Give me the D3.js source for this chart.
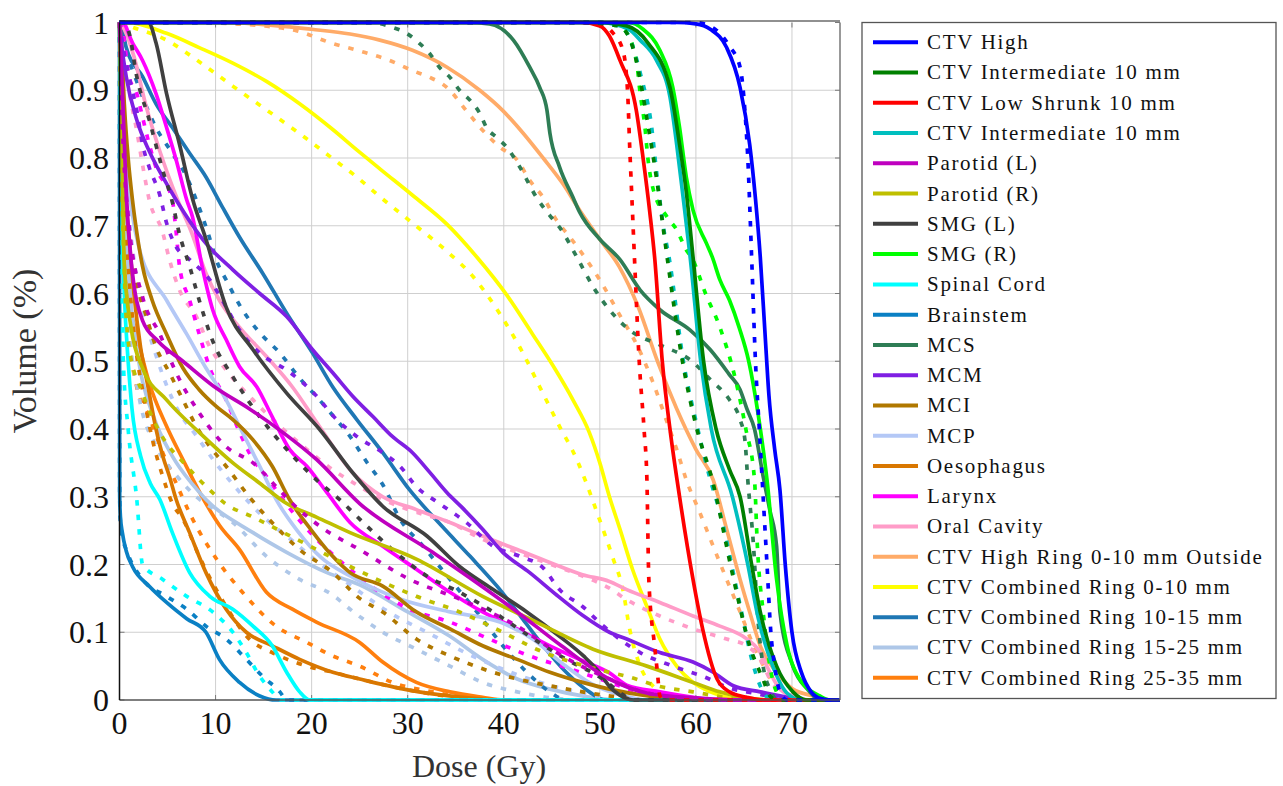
<!DOCTYPE html>
<html>
<head>
<meta charset="utf-8">
<script src="https://cdn.jsdelivr.net/npm/d3@7"></script>
<style>
  html, body { margin: 0; padding: 0; background: #fff; }
  svg { display: block; }
  text { font-family: "Liberation Serif", "Times New Roman", serif; fill: #111; }
</style>
</head>
<body>
<svg id="chart" width="1283" height="786"></svg>
<script>
// ---- Structure names (legend order) ----
const structureNames = [
  "CTV High", "CTV Intermediate 10 mm", "CTV Low Shrunk 10 mm", "CTV Intermediate 10 mm",
  "Parotid (L)", "Parotid (R)", "SMG (L)", "SMG (R)", "Spinal Cord", "Brainstem",
  "MCS", "MCM", "MCI", "MCP", "Oesophagus", "Larynx", "Oral Cavity",
  "CTV High Ring 0-10 mm Outside", "CTV Combined Ring 0-10 mm",
  "CTV Combined Ring 10-15 mm", "CTV Combined Ring 15-25 mm", "CTV Combined Ring 25-35 mm"
];
const structureColors = [
  "#0000ff", "#008000", "#ff0000", "#00bfbf", "#bf00bf", "#bfbf00", "#404040", "#00ff00",
  "#00ffff", "#0a80c4", "#2e7d55", "#7f1fe3", "#b07800", "#b4c8f6", "#d97700", "#ff00ff",
  "#ff9cc8", "#ffab68", "#ffff00", "#1f77b4", "#aec7e8", "#ff7f0e"
];

// ---- Axis ticks ----
const doseTicks = [0, 10, 20, 30, 40, 50, 60, 70];
const volumeTicks = [0, 0.1, 0.2, 0.3, 0.4, 0.5, 0.6, 0.7, 0.8, 0.9, 1];
const volumeTickLabels = ["0", "0.1", "0.2", "0.3", "0.4", "0.5", "0.6", "0.7", "0.8", "0.9", "1"];

// ---- Cumulative DVH curves: [dose (Gy), volume fraction]; A = solid, B = dotted ----
const ctvHighA = [[0,1],[58,1],[60,0.998],[61.5,0.99],[63.2,0.963],[64.6,0.904],[65.6,0.82],[66.2,0.74],[66.7,0.654],[67.2,0.54],[67.6,0.45],[68.2,0.37],[68.75,0.31],[69.3,0.2],[70,0.1],[71,0.04],[72,0.012],[73,0.002],[74,0],[75,0]];
const ctvHighB = [[0,1],[60,1],[62,0.99],[63.5,0.965],[64.6,0.934],[65.1,0.87],[65.4,0.8],[65.8,0.654],[66.2,0.5],[66.6,0.4],[66.9,0.325],[67.4,0.2],[67.8,0.1],[68.2,0.05],[68.75,0.012],[69.5,0],[75,0]];
const ctvIntA = [[0,1],[50,1],[52.8,0.995],[55,0.97],[57.3,0.904],[58.3,0.82],[59,0.75],[59.7,0.654],[60.8,0.5],[62.1,0.4],[63.5,0.34],[64.6,0.3],[65.8,0.2],[66.7,0.13],[68.4,0.05],[70.1,0.012],[71.5,0],[75,0]];
const ctvIntB = [[0,1],[48,1],[52,0.995],[53.5,0.96],[54.4,0.9],[55,0.85],[55.9,0.77],[57,0.654],[58.6,0.5],[60.1,0.4],[61.7,0.325],[63.9,0.18],[65.6,0.08],[67,0.03],[67.7,0.006],[68.5,0],[75,0]];
const ctvLowA = [[0,1],[48,1],[50,0.995],[51,0.98],[52.1,0.944],[53.8,0.87],[54.5,0.8],[55.2,0.72],[55.7,0.654],[56.5,0.5],[57.3,0.4],[58.3,0.3],[59.7,0.178],[60.7,0.105],[62.2,0.031],[63.5,0.012],[65.3,0.004],[67,0],[75,0]];
const ctvLowB = [[0,1],[48,1],[50.5,0.995],[51.4,0.984],[52.4,0.959],[52.9,0.895],[53.1,0.82],[53.4,0.72],[53.6,0.654],[54.1,0.5],[54.6,0.4],[54.9,0.325],[55.1,0.178],[55.7,0.08],[56,0.04],[56.25,0.006],[57,0],[75,0]];
const ctvInt2A = [[0,1],[50,1],[53,0.99],[54.2,0.974],[55.9,0.944],[57.3,0.89],[58,0.82],[58.6,0.75],[59.4,0.654],[60.5,0.5],[61.6,0.4],[63.8,0.3],[65.4,0.2],[66.5,0.12],[68,0.05],[69.5,0.01],[71,0],[75,0]];
const ctvInt2B = [[0,1],[48,1],[52,0.995],[53,0.98],[54.3,0.92],[55.4,0.845],[55.9,0.78],[56.6,0.7],[57.2,0.654],[58.7,0.5],[60.2,0.4],[61.5,0.325],[62.5,0.277],[64.6,0.14],[66,0.05],[67,0.012],[68,0],[75,0]];
const parotidLA = [[0,1],[0.3,0.9],[0.7,0.75],[1.2,0.65],[2.4,0.56],[4,0.53],[6.6,0.5],[10.1,0.46],[13.5,0.43],[17,0.395],[20.5,0.355],[25,0.29],[32.6,0.218],[37,0.175],[41.4,0.13],[46,0.08],[51,0.031],[55,0.01],[60,0.003],[65,0],[75,0]];
const parotidLB = [[0,1],[0.3,0.85],[1,0.7],[2.4,0.595],[4.2,0.54],[5.9,0.483],[8.3,0.424],[11.1,0.374],[13.9,0.35],[16.3,0.315],[18,0.29],[21,0.255],[25,0.222],[30.2,0.178],[35.4,0.149],[41.4,0.109],[46.1,0.065],[51,0.031],[55,0.01],[60,0.002],[63,0],[75,0]];
const parotidRA = [[0,1],[0.2,0.85],[0.5,0.64],[1.2,0.55],[2.4,0.49],[4.9,0.443],[8.3,0.395],[11.8,0.35],[14.6,0.32],[17.4,0.29],[20.5,0.27],[24,0.247],[30.9,0.208],[37.8,0.153],[43.4,0.115],[49.3,0.075],[54.9,0.05],[59.7,0.026],[62.5,0.012],[65,0.004],[68,0],[75,0]];
const parotidRB = [[0,1],[0.2,0.8],[0.5,0.63],[1,0.52],[2.4,0.453],[4.2,0.395],[7,0.345],[9.4,0.31],[11,0.29],[13.9,0.27],[18.75,0.235],[24,0.197],[30.9,0.153],[35.4,0.13],[39.9,0.1],[43.4,0.075],[51,0.041],[52.8,0.035],[56.25,0.02],[59.7,0.012],[63,0.004],[66,0],[75,0]];
const smgLA = [[0,1],[3,1],[3.8,0.97],[4.9,0.895],[6.25,0.82],[7.6,0.74],[9,0.68],[11.1,0.58],[13.9,0.517],[17.4,0.453],[20.8,0.4],[24.3,0.335],[27.4,0.286],[32,0.242],[35.4,0.197],[38.9,0.163],[42.4,0.13],[45.8,0.094],[48.3,0.065],[50,0.04],[51,0.02],[52,0.008],[53.5,0],[75,0]];
const smgLB = [[0,1],[0.5,1],[1,0.985],[1.8,0.92],[3.1,0.856],[4.5,0.782],[5.5,0.735],[6.2,0.69],[7.3,0.64],[8.3,0.59],[9.7,0.53],[11.8,0.477],[14.6,0.418],[17.4,0.37],[20.5,0.325],[22.9,0.296],[25,0.267],[28.4,0.222],[32,0.183],[35.4,0.159],[38.9,0.13],[42.7,0.094],[46.5,0.06],[50.3,0.031],[52,0.012],[53.5,0],[75,0]];
const smgRA = [[0,1],[53,1],[54.5,0.99],[56.25,0.959],[57.6,0.904],[58.3,0.845],[59,0.772],[59.7,0.723],[61.1,0.674],[61.7,0.654],[62.5,0.62],[63.5,0.59],[64.5,0.55],[65.5,0.5],[66.5,0.42],[67.4,0.325],[68.4,0.178],[69.5,0.08],[70.8,0.031],[72.9,0.006],[74,0],[75,0]];
const smgRB = [[0,1],[51,1],[52.5,0.99],[53.8,0.944],[54.2,0.895],[54.7,0.845],[55,0.8],[55.5,0.757],[57,0.713],[58,0.694],[59,0.664],[59.6,0.652],[61,0.6],[62.5,0.55],[64,0.48],[65.2,0.4],[66.1,0.325],[66.4,0.227],[67,0.13],[67.7,0.05],[68.4,0.012],[69.2,0],[75,0]];
const spinalA = [[0,1],[0.2,0.75],[0.5,0.6],[0.9,0.5],[1.3,0.43],[2.2,0.36],[3.2,0.32],[4.2,0.296],[5.5,0.247],[7.3,0.188],[9.4,0.153],[11.8,0.134],[13.9,0.109],[15.9,0.08],[17.4,0.041],[18.75,0.012],[19.8,0],[75,0]];
const spinalB = [[0,1],[0.2,0.7],[0.4,0.5],[0.9,0.4],[1.8,0.296],[2.4,0.2],[4.5,0.178],[7,0.153],[9.7,0.13],[11.8,0.1],[13.2,0.07],[14.6,0.035],[15.9,0.012],[16.7,0],[75,0]];
const brainstemA = [[0,1],[0.02,0.3],[0.1,0.27],[0.3,0.247],[0.7,0.22],[1.35,0.197],[3.1,0.168],[4.9,0.144],[7,0.12],[9,0.1],[10.4,0.06],[12.5,0.026],[14.6,0.006],[16.3,0],[75,0]];
const brainstemB = [[0,1],[0.02,0.3],[0.1,0.26],[0.3,0.24],[0.7,0.222],[2.4,0.178],[4.9,0.153],[7,0.134],[9,0.109],[11.1,0.09],[13.2,0.06],[14.9,0.035],[16.7,0.012],[17.4,0],[75,0]];
const mcsA = [[0,1],[36,1],[38.5,0.998],[41,0.974],[42.7,0.934],[43.75,0.904],[44.5,0.87],[44.8,0.837],[45.8,0.787],[47.2,0.742],[47.9,0.72],[50,0.68],[52.1,0.65],[54.2,0.605],[56.25,0.576],[59.4,0.546],[61.5,0.517],[63.5,0.48],[64.6,0.458],[65.3,0.43],[66.1,0.4],[67,0.33],[67.7,0.28],[68.4,0.227],[68.75,0.13],[70.1,0.05],[71.6,0.016],[73,0],[75,0]];
const mcsB = [[0,1],[26,1],[28.4,0.993],[29.9,0.984],[31.25,0.969],[32.3,0.954],[33.3,0.934],[34.4,0.919],[35.4,0.9],[36.5,0.885],[37.5,0.866],[38.2,0.845],[39.3,0.83],[40.3,0.816],[41.7,0.786],[43.4,0.742],[44.8,0.715],[45.8,0.698],[47.6,0.654],[49.3,0.61],[51,0.576],[53.1,0.546],[56.25,0.524],[59.4,0.502],[61.5,0.473],[63.5,0.443],[64.6,0.414],[65.1,0.384],[65.4,0.325],[66,0.227],[66.4,0.13],[67,0.05],[67.7,0.016],[68.5,0],[75,0]];
const mcmA = [[0,1],[0.2,0.97],[0.7,0.92],[1.8,0.856],[3.1,0.81],[4.5,0.772],[5.9,0.738],[9,0.674],[11.8,0.635],[14.6,0.6],[17.4,0.566],[20.1,0.517],[22.2,0.483],[24.3,0.448],[26.4,0.418],[28.4,0.389],[30.5,0.365],[32.3,0.336],[34.1,0.306],[35.6,0.285],[37.8,0.252],[39.9,0.218],[42.7,0.188],[45.5,0.155],[48.2,0.125],[51,0.1],[52.8,0.09],[56.25,0.07],[59.7,0.056],[61.8,0.041],[63.9,0.021],[66.7,0.012],[69.5,0.004],[71,0],[75,0]];
const mcmB = [[0,1],[0.1,0.99],[0.3,0.97],[1,0.92],[1.8,0.87],[2.4,0.82],[3.1,0.786],[4.2,0.745],[4.9,0.704],[5.9,0.669],[7.3,0.65],[9.4,0.62],[10.7,0.59],[12.5,0.546],[14.6,0.512],[17.4,0.487],[20.1,0.455],[22.6,0.414],[24.7,0.389],[27.4,0.365],[29.2,0.345],[30.9,0.315],[33.3,0.29],[36.1,0.262],[38.9,0.227],[41.7,0.212],[44.1,0.195],[45.8,0.163],[48.2,0.138],[50.3,0.11],[54.2,0.07],[57.6,0.05],[60.7,0.035],[63.9,0.016],[65.3,0.012],[67.4,0.006],[69,0],[75,0]];
const mciA = [[0,1],[0.2,0.97],[0.5,0.88],[0.9,0.8],[1.35,0.738],[1.8,0.69],[2.4,0.64],[3.4,0.59],[4.9,0.54],[6.6,0.49],[8.3,0.458],[10.1,0.433],[11.8,0.414],[13.9,0.384],[15.9,0.345],[17.7,0.296],[20,0.25],[22,0.215],[24,0.188],[27.4,0.168],[30.9,0.13],[34.4,0.105],[37.8,0.08],[41.4,0.06],[44.8,0.041],[48.2,0.026],[51,0.016],[55,0.006],[60,0],[75,0]];
const mciB = [[0,1],[0.2,0.9],[0.5,0.78],[1,0.69],[1.8,0.615],[2.8,0.566],[3.8,0.521],[5.2,0.483],[6.6,0.443],[8,0.404],[9.4,0.374],[11.1,0.345],[13.5,0.3],[16,0.26],[18.75,0.222],[22.2,0.188],[25,0.15],[27.4,0.13],[30.9,0.09],[34.4,0.065],[37.8,0.046],[41.4,0.031],[44.8,0.021],[48.2,0.012],[52,0.004],[55,0],[75,0]];
const mcpA = [[0,1],[0.3,0.9],[0.7,0.8],[1.3,0.72],[2.1,0.664],[4.9,0.59],[7,0.54],[9,0.49],[11.1,0.443],[12.8,0.395],[14.6,0.345],[16.3,0.296],[18.5,0.25],[21,0.21],[24,0.183],[29.2,0.149],[34.4,0.13],[39.6,0.115],[43,0.09],[46,0.055],[49,0.025],[52,0.008],[55,0],[75,0]];
const mcpB = [[0,1],[0.3,0.88],[0.8,0.75],[1.5,0.65],[2.4,0.58],[4,0.5],[6,0.43],[8,0.39],[10,0.35],[12,0.315],[15,0.27],[18,0.235],[21,0.2],[24,0.17],[28,0.13],[32,0.1],[36,0.07],[40,0.045],[44,0.025],[48,0.01],[52,0],[75,0]];
const oesoA = [[0,1],[0.1,0.95],[0.3,0.85],[0.6,0.75],[1,0.68],[1.5,0.6],[2.2,0.52],[3,0.46],[3.8,0.4],[4.5,0.36],[5.2,0.33],[5.9,0.296],[7.3,0.247],[9,0.188],[11.1,0.134],[13.2,0.1],[15.9,0.08],[18.75,0.06],[22.2,0.041],[25,0.031],[30,0.015],[35,0.005],[40,0],[75,0]];
const oesoB = [[0,1],[0.1,0.9],[0.3,0.8],[0.6,0.7],[1,0.62],[1.6,0.53],[2.5,0.45],[3.5,0.38],[4.5,0.33],[5.5,0.29],[6.6,0.267],[8.3,0.212],[11.1,0.138],[13.5,0.09],[15.9,0.07],[19.5,0.05],[22.2,0.041],[25,0.031],[30,0.015],[35,0.004],[38,0],[75,0]];
const larynxA = [[0,1],[0.3,1],[1.35,0.97],[2.4,0.944],[3.8,0.895],[4.9,0.845],[5.9,0.797],[7,0.738],[7.6,0.713],[8.6,0.64],[9.7,0.576],[11.1,0.532],[12.5,0.492],[14.3,0.462],[15.9,0.418],[17.7,0.37],[19.5,0.345],[21.6,0.306],[24,0.262],[27.4,0.227],[30.9,0.193],[34.4,0.159],[37.8,0.13],[41.4,0.105],[44.8,0.08],[48.2,0.058],[51,0.04],[52.8,0.022],[56.25,0.012],[59.7,0.004],[62,0],[75,0]];
const larynxB = [[0,1],[0.3,0.99],[1,0.92],[1.8,0.895],[2.4,0.86],[3.1,0.82],[3.8,0.786],[5.5,0.738],[5.9,0.69],[6.25,0.64],[7.3,0.59],[8.3,0.54],[9.4,0.49],[11.1,0.443],[12.5,0.395],[13.9,0.355],[15.3,0.33],[17,0.296],[20,0.245],[24,0.193],[27,0.16],[30.2,0.134],[34.4,0.115],[38.5,0.09],[42.7,0.065],[46.9,0.046],[51,0.026],[54,0.012],[57,0.004],[60,0],[75,0]];
const oralA = [[0,1],[0.5,0.99],[1.5,0.95],[2.7,0.88],[4.2,0.81],[6,0.74],[7.5,0.69],[9,0.63],[10.4,0.59],[12.5,0.55],[15.3,0.507],[18,0.462],[20.8,0.404],[24.3,0.335],[27.4,0.3],[30.9,0.281],[34.4,0.262],[37.8,0.242],[41.4,0.222],[44.8,0.203],[48.2,0.185],[51,0.175],[52.8,0.163],[56.25,0.144],[59.7,0.124],[62.5,0.109],[64.9,0.094],[66.7,0.07],[67.7,0.041],[68.75,0.016],[70.1,0.006],[72,0],[75,0]];
const oralB = [[0,1],[0.3,0.98],[1,0.9],[1.8,0.84],[2.4,0.79],[3.1,0.738],[4.5,0.69],[5.2,0.65],[6.25,0.605],[8,0.566],[9.4,0.521],[11.1,0.487],[13.9,0.443],[16.7,0.404],[19.5,0.37],[22.2,0.34],[24.3,0.321],[27.4,0.296],[30.9,0.277],[34.4,0.262],[37.8,0.237],[41.4,0.218],[45.5,0.197],[48.2,0.183],[51,0.165],[52.8,0.148],[56.25,0.124],[59.7,0.105],[63.2,0.09],[65.3,0.08],[66.7,0.06],[67.7,0.031],[68.75,0.012],[70,0],[75,0]];
const highRingA = [[0,1],[10,1],[15,0.997],[20,0.99],[24,0.983],[27.1,0.974],[30.5,0.959],[34.1,0.934],[37.5,0.9],[39.9,0.87],[42,0.837],[44.1,0.8],[46.1,0.763],[47.9,0.723],[50,0.68],[52,0.64],[54,0.58],[56,0.5],[58,0.43],[60,0.37],[61.8,0.325],[63.2,0.252],[64.6,0.178],[65.6,0.13],[66.7,0.08],[68.4,0.041],[70.1,0.016],[72.2,0.006],[74,0],[75,0]];
const highRingB = [[0,1],[8,1],[12,0.998],[15,0.995],[18.4,0.988],[22.2,0.969],[25,0.958],[28.1,0.944],[30.5,0.929],[32.3,0.919],[34.1,0.904],[36.1,0.87],[37.8,0.841],[39.6,0.816],[41.4,0.797],[42.7,0.767],[44.1,0.742],[45.5,0.708],[46.9,0.683],[47.9,0.664],[50,0.62],[52,0.57],[54,0.52],[55.5,0.47],[57,0.41],[58,0.37],[59,0.325],[60.4,0.277],[61.8,0.227],[63.2,0.178],[64.6,0.13],[66,0.08],[67.4,0.041],[68.4,0.016],[69.5,0.004],[71,0],[75,0]];
const ring0to10A = [[0,1],[0.7,1],[4.9,0.984],[8.3,0.963],[11.8,0.94],[15.3,0.913],[18.75,0.88],[22.2,0.842],[24.7,0.812],[27.1,0.784],[30.5,0.745],[34.1,0.702],[37.3,0.652],[40.3,0.598],[43,0.54],[45.1,0.494],[47.2,0.443],[48.9,0.395],[50,0.35],[51,0.3],[52.1,0.252],[53.4,0.193],[54.9,0.138],[56.25,0.09],[58,0.05],[59.7,0.026],[61.5,0.012],[63.5,0.003],[65,0],[75,0]];
const ring0to10B = [[0,1],[1.35,0.993],[4.9,0.974],[8.3,0.942],[11.8,0.906],[15.3,0.871],[18.75,0.836],[22.2,0.799],[24.7,0.772],[27.1,0.743],[30.5,0.704],[34.1,0.662],[36.8,0.625],[38.9,0.585],[40.6,0.547],[42,0.512],[43.75,0.462],[45.8,0.404],[47.6,0.355],[48.6,0.32],[49.7,0.277],[51.4,0.208],[52.4,0.163],[53.1,0.105],[54.2,0.05],[55.5,0.021],[57,0.006],[58.5,0],[75,0]];
const ring10to15A = [[0,1],[0.3,0.99],[0.7,0.963],[2.4,0.92],[3.8,0.88],[5.5,0.845],[7.3,0.807],[9,0.772],[10.7,0.728],[12.5,0.683],[14.9,0.63],[17.4,0.571],[20.1,0.512],[22.2,0.462],[24.7,0.414],[27.4,0.365],[30.2,0.31],[33.6,0.256],[36.5,0.212],[39.3,0.168],[42,0.119],[44.1,0.08],[46.5,0.041],[48.9,0.012],[50.5,0],[75,0]];
const ring10to15B = [[0,1],[0.5,0.96],[1.35,0.93],[2.4,0.89],[3.8,0.845],[5.5,0.807],[7,0.772],[8,0.738],[9.2,0.69],[10.2,0.645],[11.1,0.62],[12.8,0.576],[14.6,0.542],[16.7,0.512],[18.75,0.475],[20.5,0.448],[22.2,0.42],[24,0.389],[25.7,0.352],[27.4,0.318],[29.2,0.267],[31.6,0.227],[34.4,0.178],[37.2,0.13],[39.9,0.08],[42.4,0.041],[44.8,0.012],[46.5,0],[75,0]];
const ring15to25A = [[0,1],[0.2,0.9],[0.5,0.75],[1,0.62],[2,0.5],[3.5,0.42],[5.5,0.36],[7.5,0.32],[9,0.296],[13.9,0.247],[17.4,0.218],[21.6,0.188],[25,0.17],[30,0.13],[34.4,0.094],[37.8,0.06],[41.4,0.031],[44.8,0.016],[48.2,0.006],[52,0],[75,0]];
const ring15to25B = [[0,1],[0.2,0.85],[0.5,0.68],[1,0.55],[2,0.45],[4,0.37],[6,0.33],[8,0.3],[10,0.28],[11.8,0.262],[15.3,0.212],[18.75,0.178],[22.2,0.155],[24,0.134],[27.4,0.1],[30.9,0.075],[34.4,0.05],[37.8,0.026],[41.4,0.012],[45,0.003],[48,0],[75,0]];
const ring25to35A = [[0,1],[0.1,0.9],[0.3,0.75],[0.7,0.615],[1.8,0.54],[3.1,0.468],[4.9,0.404],[6.6,0.355],[8.6,0.3],[10.4,0.258],[12.5,0.222],[15.3,0.159],[18,0.134],[20.5,0.115],[25,0.085],[27.4,0.056],[30.9,0.026],[34.4,0.012],[37.8,0.004],[40,0],[75,0]];
const ring25to35B = [[0,1],[0.1,0.85],[0.3,0.68],[0.7,0.58],[1.8,0.462],[3.1,0.418],[4.5,0.365],[5.9,0.32],[7.5,0.27],[10.1,0.208],[12.8,0.159],[16.3,0.109],[19.5,0.085],[22.2,0.065],[25,0.05],[28.4,0.026],[32.6,0.012],[36,0.003],[38,0],[75,0]];

const solidCurves = [ctvHighA, ctvIntA, ctvLowA, ctvInt2A, parotidLA, parotidRA, smgLA, smgRA, spinalA, brainstemA,
  mcsA, mcmA, mciA, mcpA, oesoA, larynxA, oralA, highRingA, ring0to10A, ring10to15A, ring15to25A, ring25to35A];
const dottedCurves = [ctvHighB, ctvIntB, ctvLowB, ctvInt2B, parotidLB, parotidRB, smgLB, smgRB, spinalB, brainstemB,
  mcsB, mcmB, mciB, mcpB, oesoB, larynxB, oralB, highRingB, ring0to10B, ring10to15B, ring15to25B, ring25to35B];

// ---- Layout ----
const svg = d3.select("#chart");
const x = d3.scaleLinear().domain([0, 75]).range([119.5, 840]);
const y = d3.scaleLinear().domain([0, 1]).range([700, 22.5]);

// grid
const grid = svg.append("g").attr("stroke", "#cfcfcf").attr("stroke-width", 1);
grid.selectAll("line.v").data(doseTicks.slice(1)).join("line")
  .attr("x1", d => x(d)).attr("x2", d => x(d)).attr("y1", y(0)).attr("y2", y(1));
grid.selectAll("line.h").data(volumeTicks.slice(1, -1)).join("line")
  .attr("x1", x(0)).attr("x2", x(75)).attr("y1", d => y(d)).attr("y2", d => y(d));

// inward tick marks on all four sides
const tk = svg.append("g").attr("stroke", "#7a7a7a").attr("stroke-width", 1);
tk.selectAll("line.l").data(volumeTicks).join("line")
  .attr("x1", x(0)).attr("x2", x(0) + 5).attr("y1", d => y(d)).attr("y2", d => y(d));
tk.selectAll("line.r").data(volumeTicks).join("line")
  .attr("x1", x(75) - 5).attr("x2", x(75)).attr("y1", d => y(d)).attr("y2", d => y(d));
tk.selectAll("line.b").data(doseTicks).join("line")
  .attr("x1", d => x(d)).attr("x2", d => x(d)).attr("y1", y(0)).attr("y2", y(0) - 5);
tk.selectAll("line.t").data(doseTicks).join("line")
  .attr("x1", d => x(d)).attr("x2", d => x(d)).attr("y1", y(1)).attr("y2", y(1) + 5);

// curves (monotone interpolation keeps each DVH within [0, 1])
const line = d3.line().x(d => x(d[0])).y(d => y(d[1])).curve(d3.curveMonotoneX);
const curvesG = svg.append("g").attr("fill", "none").attr("stroke-linejoin", "round");
for (let i = structureNames.length - 1; i >= 0; i--) {
  curvesG.append("path").datum(solidCurves[i]).attr("d", line)
    .attr("stroke", structureColors[i]).attr("stroke-width", 3.7);
  curvesG.append("path").datum(dottedCurves[i]).attr("d", line)
    .attr("stroke", structureColors[i]).attr("stroke-width", 3.7)
    .attr("stroke-dasharray", "5.5,9");
}

// frame
svg.append("line").attr("x1", x(75)).attr("x2", x(75)).attr("y1", y(0)).attr("y2", y(1))
  .attr("stroke", "#777").attr("stroke-width", 1.5);
svg.append("line").attr("x1", x(0)).attr("x2", x(75)).attr("y1", y(0)).attr("y2", y(0))
  .attr("stroke", "#555").attr("stroke-width", 1.5);
svg.append("line").attr("x1", x(0)).attr("x2", x(0)).attr("y1", y(0)).attr("y2", y(1))
  .attr("stroke", "#111").attr("stroke-width", 1.5);
svg.append("line").attr("x1", x(0)).attr("x2", x(75)).attr("y1", y(1) - 1.5).attr("y2", y(1) - 1.5)
  .attr("stroke", "#222").attr("stroke-width", 1.2);

// tick labels
svg.append("g").selectAll("text").data(volumeTicks).join("text")
  .attr("x", 109).attr("y", d => y(d)).attr("dy", "0.35em")
  .attr("text-anchor", "end").style("font-size", "32px")
  .text((d, i) => volumeTickLabels[i]);
svg.append("g").selectAll("text").data(doseTicks).join("text")
  .attr("x", d => x(d)).attr("y", 734)
  .attr("text-anchor", "middle").style("font-size", "32px")
  .text(d => d);

// axis titles
svg.append("text").attr("x", 479).attr("y", 777).attr("text-anchor", "middle")
  .style("font-size", "32px").style("fill", "#333").text("Dose (Gy)");
svg.append("text").attr("transform", "translate(36,351) rotate(-90)").attr("text-anchor", "middle")
  .style("font-size", "34px").style("fill", "#333").text("Volume (%)");

// legend
const lg = svg.append("g");
lg.append("rect").attr("x", 862).attr("y", 22.5).attr("width", 414).attr("height", 676)
  .attr("fill", "#fff").attr("stroke", "#555").attr("stroke-width", 1.3);
structureNames.forEach((name, i) => {
  const ly = 42.3 + i * 30.26;
  lg.append("line").attr("x1", 873).attr("x2", 918).attr("y1", ly).attr("y2", ly)
    .attr("stroke", structureColors[i]).attr("stroke-width", 4);
  lg.append("text").attr("x", 927).attr("y", ly).attr("dy", "0.33em")
    .style("font-size", "21px").style("letter-spacing", "1.7px").text(name);
});
</script>
</body>
</html>
